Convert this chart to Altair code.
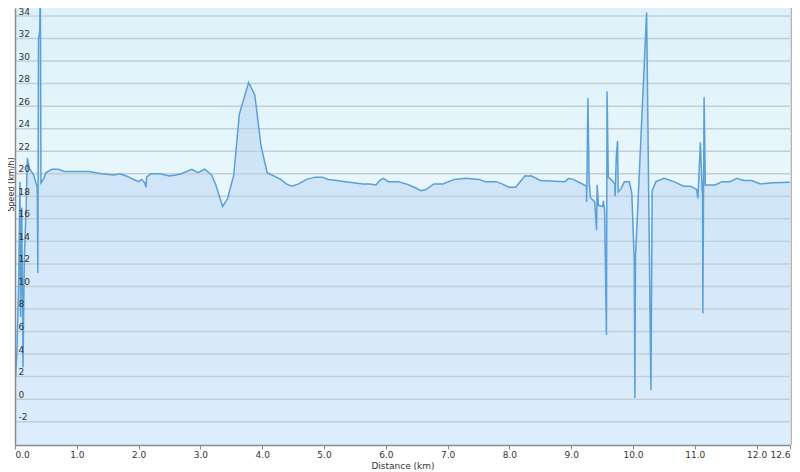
import altair as alt
import pandas as pd

dist_km = [0.00, 0.01, 0.03, 0.06, 0.08, 0.09, 0.11, 0.13, 0.15, 0.18, 0.20, 0.23, 0.30, 0.36, 0.37, 0.38,
           0.40, 0.41, 0.42, 0.47, 0.50, 0.60, 0.70, 0.80, 1.00, 1.20, 1.40, 1.60, 1.70, 1.80, 2.00, 2.05,
           2.10, 2.12, 2.13, 2.20, 2.35, 2.50, 2.60, 2.69, 2.86, 2.96, 3.07, 3.18, 3.25, 3.36, 3.44, 3.54,
           3.63, 3.78, 3.88, 3.98, 4.08, 4.30, 4.39, 4.48, 4.59, 4.72, 4.86, 4.97, 5.07, 5.21, 5.34, 5.48,
           5.63, 5.74, 5.84, 5.90, 5.96, 6.04, 6.20, 6.33, 6.46, 6.57, 6.65, 6.78, 6.92, 7.11, 7.29, 7.51,
           7.61, 7.78, 7.88, 7.99, 8.10, 8.25, 8.36, 8.50, 8.90, 8.96, 9.03, 9.14, 9.21, 9.245, 9.25, 9.27,
           9.29, 9.31, 9.38, 9.41, 9.42, 9.44, 9.51, 9.52, 9.54, 9.57, 9.58, 9.60, 9.66, 9.705, 9.71, 9.73,
           9.75, 9.76, 9.81, 9.86, 9.94, 9.98, 10.02, 10.03, 10.04, 10.22, 10.29, 10.31, 10.37, 10.50,
           10.66, 10.82, 10.93, 11.03, 11.05, 11.09, 11.12, 11.125, 11.13, 11.15, 11.17, 11.33, 11.44,
           11.57, 11.68, 11.79, 11.92, 12.06, 12.27, 12.54]
speed_kmh = [5.0, 2.0, 4.0, 10.5, 19.3, 7.3, 17.0, 2.8, 12.3, 17.0, 21.4, 20.5, 19.9, 18.8, 11.2, 31.9,
             32.7, 37.0, 19.2, 19.6, 20.1, 20.4, 20.4, 20.2, 20.2, 20.2, 20.0, 19.9, 20.0, 19.8, 19.3, 19.5,
             19.2, 18.8, 19.7, 20.0, 20.0, 19.8, 19.9, 20.0, 20.4, 20.1, 20.4, 19.9, 19.0, 17.1, 17.8, 19.9,
             25.3, 28.1, 27.0, 22.5, 20.1, 19.5, 19.1, 18.9, 19.1, 19.5, 19.7, 19.7, 19.5, 19.4, 19.3, 19.2,
             19.1, 19.1, 19.0, 19.4, 19.6, 19.3, 19.3, 19.1, 18.8, 18.5, 18.6, 19.1, 19.1, 19.5, 19.6, 19.5,
             19.3, 19.3, 19.1, 18.8, 18.8, 19.8, 19.8, 19.4, 19.3, 19.6, 19.5, 19.2, 19.0, 18.9, 17.5, 26.7,
             19.3, 17.9, 17.5, 15.0, 19.0, 17.2, 17.1, 17.6, 16.8, 5.7, 27.3, 19.7, 19.4, 19.1, 18.0, 21.6,
             22.9, 18.4, 18.7, 19.3, 19.3, 18.3, 12.3, 0.1, 12.6, 34.3, 0.8, 18.5, 19.3, 19.6,
             19.3, 18.9, 18.9, 18.6, 17.8, 22.8, 18.3, 19.3, 7.6, 26.8, 19.0, 19.0, 19.3,
             19.3, 19.6, 19.4, 19.4, 19.1, 19.2, 19.25]

x_ticks = [0, 1, 2, 3, 4, 5, 6, 7, 8, 9, 10, 11, 12, 12.54]
y_ticks = list(range(-2, 35, 2))

W, H = 775, 437
df = pd.DataFrame({"d": dist_km, "s": speed_kmh, "i": range(len(dist_km))})

xs = alt.Scale(domain=[0, 12.54], nice=False, zero=False)
ys = alt.Scale(domain=[-4.07, 34.71], nice=False, zero=False)

y_axis = alt.Axis(values=y_ticks, title="Speed (km/h)", grid=False, domain=True,
                  domainColor="#8a8a8a", domainWidth=1.5, ticks=False, zindex=2,
                  labelOverlap=False,
                  labelExpr="datum.value < 0 ? '-' + toString(-datum.value) : toString(datum.value)",
                  labelAlign="left", labelPadding=-3, labelBaseline="bottom",
                  labelOffset=0, labelFontSize=9, labelColor="#333333",
                  labelFont="DejaVu Sans", titleFont="DejaVu Sans", titleFontSize=8,
                  titleFontWeight="normal", titleColor="#333333",
                  titleAngle=-90, titleX=-7.5, titleY=176, titleBaseline="top",
                  titleAlign="center")

x_axis = alt.Axis(values=x_ticks, title="Distance (km)", grid=False, zindex=2,
                  labelExpr="datum.value > 12.2 ? '12.6' : format(datum.value, '.1f')",
                  domainColor="#8a8a8a", domainWidth=1.5, tickColor="#8a8a8a",
                  tickSize=4, labelFlush=True, labelFontSize=9, labelColor="#333333",
                  labelFont="DejaVu Sans", labelPadding=1, labelOverlap=False,
                  titleFont="DejaVu Sans", titleFontSize=9, titleFontWeight="normal",
                  titleColor="#333333", titlePadding=2)

bg = alt.Chart(pd.DataFrame({"a": [0]})).mark_rect(
    color=alt.Gradient(gradient="linear", x1=0, y1=0, x2=0, y2=1,
                       stops=[alt.GradientStop(color="#dcf1fa", offset=0),
                              alt.GradientStop(color="#e9f7fc", offset=0.4),
                              alt.GradientStop(color="#e3f1fb", offset=1)])
).encode(x=alt.value(0), x2=alt.value(W), y=alt.value(0), y2=alt.value(H))

area = alt.Chart(df).mark_area(
    clip=True,
    color=alt.Gradient(gradient="linear", x1=0, y1=0, x2=0, y2=1,
                       stops=[alt.GradientStop(color="#c3def5", offset=0),
                              alt.GradientStop(color="#d0e6f8", offset=0.45),
                              alt.GradientStop(color="#dcedfc", offset=1)])
).encode(
    x=alt.X("d:Q", scale=xs, axis=x_axis),
    y=alt.Y("s:Q", scale=ys, axis=y_axis, stack=None),
    y2=alt.value(H)
)

grid = alt.Chart(pd.DataFrame({"v": y_ticks})).mark_rule(color="#c3cfd6", strokeWidth=1.5).encode(
    y=alt.Y("v:Q", scale=ys, axis=y_axis),
    x=alt.value(0), x2=alt.value(W)
)

line = alt.Chart(df).mark_line(clip=True, color="#5a9fd8", strokeWidth=1.5).encode(
    x=alt.X("d:Q", scale=xs, axis=x_axis),
    y=alt.Y("s:Q", scale=ys, axis=y_axis),
    order="i:Q"
)

border = alt.Chart(pd.DataFrame({"a": [0]})).mark_rule(color="#b5b5b5", strokeWidth=2).encode(
    x=alt.value(W + 1.5), y=alt.value(0), y2=alt.value(H)
)

chart = alt.layer(bg, area, grid, line, border).properties(
    width=W, height=H,
    padding={"left": 7, "top": 0, "right": 2, "bottom": 27},
    autosize=alt.AutoSizeParams(type="none")
).configure_view(stroke=None).configure_axis(labelOverlap=False)

chart.save("out.html", embed_options={"renderer": "svg", "actions": False})
